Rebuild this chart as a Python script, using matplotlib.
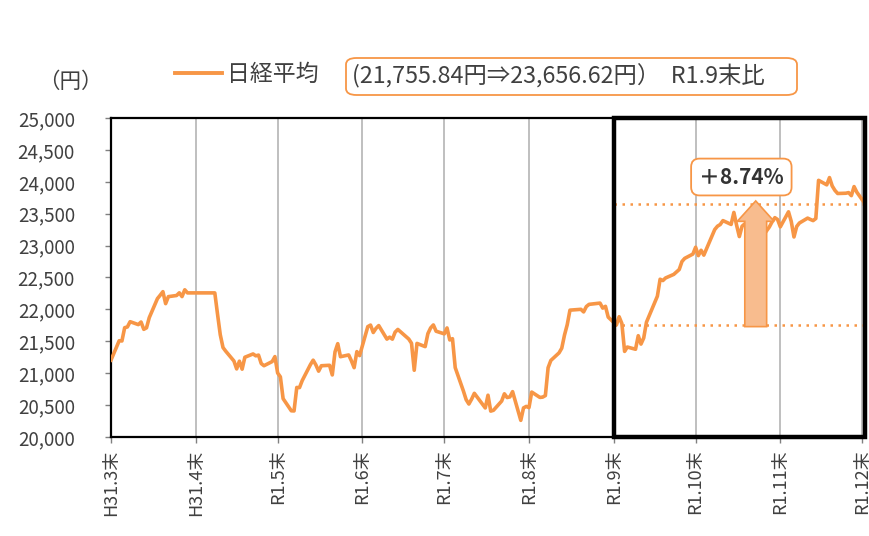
import matplotlib
matplotlib.use("Agg")
import matplotlib.pyplot as plt
import matplotlib.dates as mdates
from matplotlib.patches import FancyBboxPatch, FancyArrow, Rectangle
from matplotlib.lines import Line2D
import numpy as np

plt.rcParams['font.family'] = ['Noto Sans CJK JP', 'DejaVu Sans']

dates = [
    "2019-03-29", "2019-04-01", "2019-04-02", "2019-04-03", "2019-04-04", "2019-04-05",
    "2019-04-08", "2019-04-09", "2019-04-10", "2019-04-11", "2019-04-12", "2019-04-15",
    "2019-04-16", "2019-04-17", "2019-04-18", "2019-04-19", "2019-04-22", "2019-04-23",
    "2019-04-24", "2019-04-25", "2019-04-26", "2019-05-06", "2019-05-07", "2019-05-08",
    "2019-05-09",
    "2019-05-10", "2019-05-13", "2019-05-14", "2019-05-15", "2019-05-16", "2019-05-17",
    "2019-05-20", "2019-05-21", "2019-05-22", "2019-05-23", "2019-05-24", "2019-05-27",
    "2019-05-28", "2019-05-29", "2019-05-30", "2019-05-31", "2019-06-03", "2019-06-04",
    "2019-06-05", "2019-06-06", "2019-06-07", "2019-06-10", "2019-06-11", "2019-06-12",
    "2019-06-13", "2019-06-14", "2019-06-17", "2019-06-18", "2019-06-19", "2019-06-20",
    "2019-06-21", "2019-06-24", "2019-06-25", "2019-06-26", "2019-06-27", "2019-06-28",
    "2019-07-01", "2019-07-02", "2019-07-03", "2019-07-04", "2019-07-05", "2019-07-08",
    "2019-07-09", "2019-07-10", "2019-07-11", "2019-07-12", "2019-07-16", "2019-07-17",
    "2019-07-18", "2019-07-19", "2019-07-22", "2019-07-23", "2019-07-24", "2019-07-25",
    "2019-07-26", "2019-07-29", "2019-07-30", "2019-07-31", "2019-08-01", "2019-08-02",
    "2019-08-05", "2019-08-06", "2019-08-07", "2019-08-08", "2019-08-09", "2019-08-13",
    "2019-08-14", "2019-08-15", "2019-08-16", "2019-08-19", "2019-08-20", "2019-08-21",
    "2019-08-22", "2019-08-23", "2019-08-26", "2019-08-27", "2019-08-28", "2019-08-29",
    "2019-08-30", "2019-09-02", "2019-09-03", "2019-09-04", "2019-09-05", "2019-09-06",
    "2019-09-09", "2019-09-10", "2019-09-11", "2019-09-12", "2019-09-13", "2019-09-17",
    "2019-09-18", "2019-09-19", "2019-09-20", "2019-09-24", "2019-09-25", "2019-09-26",
    "2019-09-27", "2019-09-30", "2019-10-01", "2019-10-02", "2019-10-03", "2019-10-04",
    "2019-10-07", "2019-10-08", "2019-10-09", "2019-10-10", "2019-10-11", "2019-10-15",
    "2019-10-16", "2019-10-17", "2019-10-18", "2019-10-21", "2019-10-23", "2019-10-24",
    "2019-10-25", "2019-10-28", "2019-10-29", "2019-10-30", "2019-10-31", "2019-11-01",
    "2019-11-05", "2019-11-06", "2019-11-07", "2019-11-08", "2019-11-11", "2019-11-12",
    "2019-11-13", "2019-11-14", "2019-11-15", "2019-11-18", "2019-11-19", "2019-11-20",
    "2019-11-21", "2019-11-22", "2019-11-25", "2019-11-26", "2019-11-27", "2019-11-28",
    "2019-11-29", "2019-12-02", "2019-12-03", "2019-12-04", "2019-12-05", "2019-12-06",
    "2019-12-09", "2019-12-10", "2019-12-11", "2019-12-12", "2019-12-13", "2019-12-16",
    "2019-12-17", "2019-12-18", "2019-12-19", "2019-12-20", "2019-12-23", "2019-12-24",
    "2019-12-25", "2019-12-26", "2019-12-27", "2019-12-30",
]
nikkei = [
    21205.81, 21509.03, 21505.31, 21713.21, 21724.95, 21807.50,
    21761.65, 21802.59, 21687.57, 21711.38, 21870.56, 22169.11,
    22221.66, 22277.97, 22090.12, 22200.00, 22217.90, 22259.74,
    22200.56, 22307.58, 22258.73, 22258.73, 21923.72, 21602.59,
    21402.13,
    21344.92, 21191.28, 21067.23, 21188.56, 21062.98, 21250.09,
    21301.73, 21272.45, 21283.37, 21151.14, 21117.22, 21182.58,
    21260.14, 21003.37, 20942.53, 20601.19, 20410.88, 20408.54,
    20776.10, 20774.04, 20884.71, 21134.42, 21204.28, 21129.72,
    21032.00, 21116.89, 21124.00, 20972.71, 21333.87, 21462.86,
    21258.64, 21285.99, 21193.81, 21086.59, 21338.17, 21275.92,
    21729.97, 21754.27, 21638.16, 21702.45, 21746.38, 21534.35,
    21565.15, 21533.48, 21643.53, 21685.90, 21535.25, 21469.18,
    21046.24, 21466.99, 21416.79, 21620.88, 21709.57, 21756.55,
    21658.15, 21616.80, 21709.31, 21521.53, 21540.99, 21087.16,
    20720.29, 20585.31, 20516.56, 20593.35, 20684.82, 20455.44,
    20655.13, 20405.65, 20418.81, 20563.16, 20677.22, 20618.57,
    20628.01, 20710.91, 20261.04, 20456.08, 20479.42, 20460.93,
    20704.37, 20620.19, 20625.16, 20649.14, 21085.94, 21199.57,
    21318.42, 21392.10, 21597.76, 21759.61, 21988.29, 22001.32,
    21960.71, 22044.45, 22079.09, 22098.84, 22020.15, 22048.24,
    21878.90, 21755.84, 21885.24, 21778.61, 21341.74, 21410.20,
    21375.25, 21587.78, 21456.38, 21551.98, 21798.87, 22207.21,
    22472.92, 22451.86, 22492.68, 22548.90, 22625.38, 22750.60,
    22799.81, 22867.27, 22974.13, 22843.12, 22927.04, 22850.77,
    23251.99, 23303.82, 23330.32, 23391.87, 23331.84, 23520.01,
    23319.87, 23141.55, 23303.32, 23416.76, 23292.65, 23148.57,
    23038.58, 23112.88, 23292.81, 23373.32, 23437.77, 23409.14,
    23293.91, 23529.50, 23379.81, 23135.23, 23300.09, 23354.40,
    23430.70, 23410.19, 23391.86, 23424.81, 24023.10, 23952.35,
    24066.12, 23934.43, 23864.85, 23816.63, 23821.11, 23830.58,
    23782.87, 23924.92, 23837.72, 23656.62,
]
tick_dates = ["2019-03-29", "2019-04-29", "2019-05-29", "2019-06-29", "2019-07-29",
              "2019-08-29", "2019-09-29", "2019-10-29", "2019-11-29", "2019-12-29"]
tick_labels = ["H31.3末", "H31.4末", "R1.5末", "R1.6末", "R1.7末",
               "R1.8末", "R1.9末", "R1.10末", "R1.11末", "R1.12末"]
y_ticks = [20000, 20500, 21000, 21500, 22000, 22500, 23000, 23500, 24000, 24500, 25000]
base_value = 21755.84
end_value = 23656.62
change_label = "＋8.74%"
legend_label = "日経平均"
box_label = "(21,755.84円⇒23,656.62円）  R1.9末比"
unit_label = "（円）"

ORANGE = "#F79646"
TXT = "#404040"

x = mdates.datestr2num(dates)
xt = mdates.datestr2num(tick_dates)
x_start = x[0]
x_end = x[-1]

fig = plt.figure(figsize=(8.7, 5.36), dpi=100)
W, H = 870, 536
ax = fig.add_axes([111 / W, 1 - 437 / H, 754 / W, 319 / H])

# vertical grid lines
for t in xt[1:]:
    ax.axvline(t, color="#BFBFBF", lw=1.4, zorder=1)

ax.plot(x, nikkei, color=ORANGE, lw=2.6, zorder=4, solid_joinstyle="round")

ax.set_xlim(x_start, x_end)
ax.set_ylim(20000, 25000)
ax.set_yticks(y_ticks)
ax.set_yticklabels([f"{v:,}" for v in y_ticks], color=TXT, fontsize=13.5)
ax.set_xticks(xt)
ax.set_xticklabels(tick_labels, rotation=90, color=TXT, fontsize=13)
ax.tick_params(axis="both", direction="out", length=4, color="#808080", width=1)
ax.tick_params(axis="y", pad=22)
ax.tick_params(axis="x", pad=5)

for s in ax.spines.values():
    s.set_color("black")
    s.set_linewidth(1.6)

# highlight box from R1.9
ax.add_patch(Rectangle((xt[6], 20000), x_end - xt[6], 5000, fill=False,
                       edgecolor="black", lw=3.2, zorder=6, clip_on=False))

# dotted reference lines
ax.plot([xt[6], x_end], [base_value, base_value], color=ORANGE, lw=1.8,
        linestyle=(0, (1, 2.2)), zorder=3)
ax.plot([xt[6], x_end], [end_value, end_value], color=ORANGE, lw=1.8,
        linestyle=(0, (1, 2.2)), zorder=3)

# up arrow
arr_x = mdates.datestr2num("2019-11-20")
ax.add_patch(FancyArrow(arr_x, 21730, 0, 23700 - 21730, width=8, head_width=13.5,
                        head_length=320, length_includes_head=True,
                        facecolor="#F8BC8E", edgecolor=ORANGE, lw=1.2, zorder=5))

# change label
ax.text(0.836, 0.815, change_label, transform=ax.transAxes, ha="center", va="center",
        fontsize=15, color="#333333", fontweight="bold", zorder=7,
        bbox=dict(boxstyle="round,pad=0.38,rounding_size=0.4", facecolor="white",
                  edgecolor=ORANGE, lw=1.3))

# legend
fig.add_artist(Line2D([175 / W, 222 / W], [1 - 73 / H, 1 - 73 / H], color=ORANGE, lw=2.8))
fig.text(227 / W, 1 - 74 / H, legend_label, ha="left", va="center", fontsize=16.5,
         color=TXT)
fig.add_artist(FancyBboxPatch((346 / W, 1 - 95 / H), (797 - 346) / W, (95 - 58) / H,
                              boxstyle="round,pad=0,rounding_size=0.012",
                              facecolor="white", edgecolor=ORANGE, lw=1.3,
                              transform=fig.transFigure))
fig.text(352 / W, 1 - 76 / H, box_label, ha="left", va="center", fontsize=16.8,
         color=TXT)
fig.text(70 / W, 1 - 82 / H, unit_label, ha="center", va="center", fontsize=15.5,
         color=TXT)

fig.savefig("out.png", dpi=100)
